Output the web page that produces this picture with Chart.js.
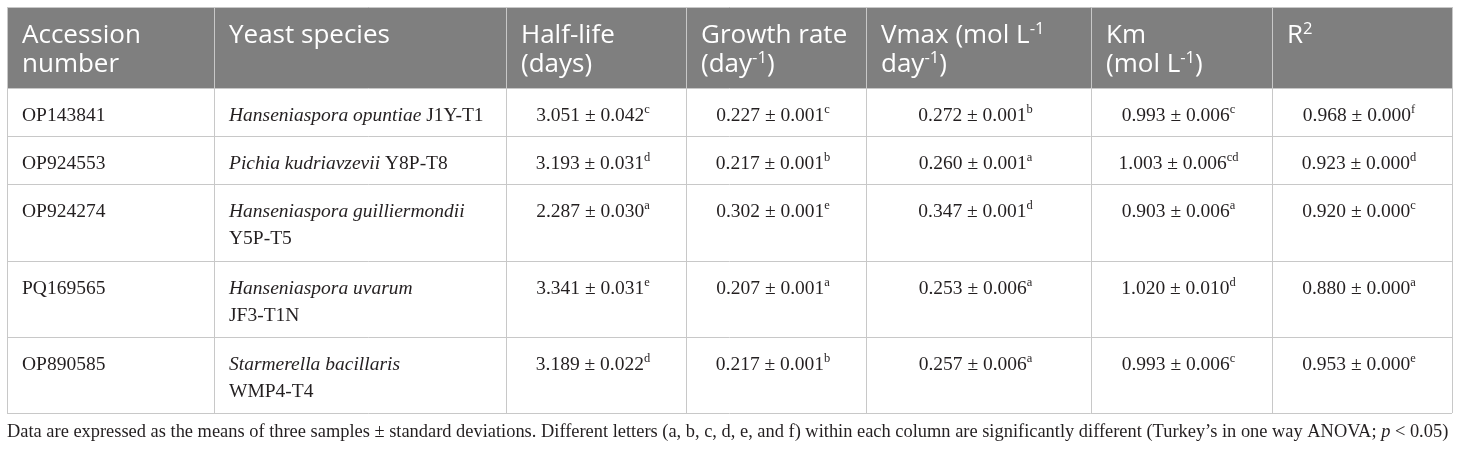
<!DOCTYPE html>
<html>
<head>
<meta charset="utf-8">
<script src="https://cdn.jsdelivr.net/npm/chart.js@4.4.1/dist/chart.umd.min.js"></script>
<style>
  html, body { margin: 0; padding: 0; background: #fff; }
  canvas { display: block; }
</style>
</head>
<body>
<canvas id="table" width="1460" height="450"></canvas>
<script>
// ^{..} = superscript, *..* = italic
const headers = [
  ["Accession", "number"],
  ["Yeast species"],
  ["Half-life", "(days)"],
  ["Growth rate", "(day^{-1})"],
  ["Vmax (mol L^{-1}", "day^{-1})"],
  ["Km", "(mol L^{-1})"],
  ["R^{2}"]
]

const accessions = ["OP143841", "OP924553", "OP924274", "PQ169565", "OP890585"]
const species = ["Hanseniaspora opuntiae", "Pichia kudriavzevii", "Hanseniaspora guilliermondii", "Hanseniaspora uvarum", "Starmerella bacillaris"]
const strains = ["J1Y-T1", "Y8P-T8", "Y5P-T5", "JF3-T1N", "WMP4-T4"]
const strainOwnLine = [false, false, true, true, true]

const halfLife = [3.051, 3.193, 2.287, 3.341, 3.189]
const halfLifeSd = [0.042, 0.031, 0.030, 0.031, 0.022]
const halfLifeLetters = ["c", "d", "a", "e", "d"]

const growthRate = [0.227, 0.217, 0.302, 0.207, 0.217]
const growthRateSd = [0.001, 0.001, 0.001, 0.001, 0.001]
const growthRateLetters = ["c", "b", "e", "a", "b"]

const vmax = [0.272, 0.260, 0.347, 0.253, 0.257]
const vmaxSd = [0.001, 0.001, 0.001, 0.006, 0.006]
const vmaxLetters = ["b", "a", "d", "a", "a"]

const km = [0.993, 1.003, 0.903, 1.020, 0.993]
const kmSd = [0.006, 0.006, 0.006, 0.010, 0.006]
const kmLetters = ["c", "cd", "a", "d", "c"]

const r2 = [0.968, 0.923, 0.920, 0.880, 0.953]
const r2Sd = [0.000, 0.000, 0.000, 0.000, 0.000]
const r2Letters = ["f", "d", "c", "a", "e"]

const footnote = "Data are expressed as the means of three samples \u00b1 standard deviations. Different letters (a, b, c, d, e, and f) within each column are significantly different (Turkey\u2019s in one way ANOVA; *p* < 0.05)"

// layout (in scale units = pixels)
const colEdges = [7, 214, 506, 686, 866, 1091, 1272, 1452]
const rowEdges = [7, 88, 136, 184, 261, 337, 413]

const SANS = '"Open Sans", "Noto Sans", sans-serif'
const SERIF = '"Liberation Serif", "DejaVu Serif", serif'

function cellText(mean, sd, letter) {
  return mean.toFixed(3) + " \u00b1 " + sd.toFixed(3) + "^{" + letter + "}"
}

const valueColumns = [
  [halfLife, halfLifeSd, halfLifeLetters],
  [growthRate, growthRateSd, growthRateLetters],
  [vmax, vmaxSd, vmaxLetters],
  [km, kmSd, kmLetters],
  [r2, r2Sd, r2Letters]
]

function parseRuns(str) {
  return str.split(/(\^\{[^}]*\}|\*[^*]*\*)/).filter(s => s).map(s => {
    if (s.startsWith("^{")) return { text: s.slice(2, -1), sup: true }
    if (s.startsWith("*")) return { text: s.slice(1, -1), italic: true }
    return { text: s }
  })
}

function runFont(run, size, family) {
  const it = run.italic ? "italic " : ""
  return it + (run.sup ? size * 0.64 : size) + "px " + family
}

function richWidth(ctx, runs, size, family) {
  let w = 0
  runs.forEach(r => {
    ctx.font = runFont(r, size, family)
    w += ctx.measureText(r.text).width
  })
  return w
}

function drawRich(ctx, str, x, y, size, family, align, color) {
  const runs = parseRuns(str)
  const w = richWidth(ctx, runs, size, family)
  let cx = align === "center" ? x - w / 2 : x
  ctx.fillStyle = color
  ctx.textBaseline = "alphabetic"
  ctx.textAlign = "left"
  runs.forEach(r => {
    ctx.font = runFont(r, size, family)
    ctx.fillText(r.text, cx, r.sup ? y - size * 0.36 : y)
    cx += ctx.measureText(r.text).width
  })
}

const tablePlugin = {
  id: "tableCells",
  afterDraw(chart) {
    const ctx = chart.ctx
    const xs = chart.scales.x
    const ys = chart.scales.y
    const px = v => xs.getPixelForValue(v)
    const py = v => ys.getPixelForValue(v)
    const left = px(colEdges[0]), right = px(colEdges[colEdges.length - 1])
    const top = py(rowEdges[0]), bottom = py(rowEdges[rowEdges.length - 1])

    ctx.save()
    // header background
    ctx.fillStyle = "#7f7f7f"
    ctx.fillRect(left, top, right - left, py(rowEdges[1]) - top)

    // header text
    headers.forEach((lines, c) => {
      lines.forEach((line, i) => {
        drawRich(ctx, line, px(colEdges[c]) + 15, top + 36 + i * 29, 26, SANS, "left", "#ffffff")
      })
    })

    // body rows
    const bodyColor = "#231f20"
    const bodySize = 19.5
    accessions.forEach((acc, r) => {
      const y0 = py(rowEdges[r + 1]) + 32.5
      drawRich(ctx, acc, px(colEdges[0]) + 15, y0, bodySize, SERIF, "left", bodyColor)
      if (strainOwnLine[r]) {
        drawRich(ctx, "*" + species[r] + "*", px(colEdges[1]) + 15, y0, bodySize, SERIF, "left", bodyColor)
        drawRich(ctx, strains[r], px(colEdges[1]) + 15, y0 + 27, bodySize, SERIF, "left", bodyColor)
      } else {
        drawRich(ctx, "*" + species[r] + "* " + strains[r], px(colEdges[1]) + 15, y0, bodySize, SERIF, "left", bodyColor)
      }
      valueColumns.forEach(([means, sds, letters], k) => {
        const c = k + 2
        const cx = (px(colEdges[c]) + px(colEdges[c + 1])) / 2
        drawRich(ctx, cellText(means[r], sds[r], letters[r]), cx - 3, y0, bodySize, SERIF, "center", bodyColor)
      })
    })

    // grid lines
    ctx.strokeStyle = "#c8c8c8"
    ctx.lineWidth = 1
    ctx.beginPath()
    rowEdges.forEach(v => {
      const y = Math.round(py(v)) + 0.5
      ctx.moveTo(left, y)
      ctx.lineTo(right, y)
    })
    colEdges.forEach(v => {
      const x = Math.round(px(v)) + 0.5
      ctx.moveTo(x, top)
      ctx.lineTo(x, bottom)
    })
    ctx.stroke()

    // footnote, fitted to table width
    const runs = parseRuns(footnote)
    const fw = richWidth(ctx, runs, 100, SERIF)
    const fSize = 100 * (right - left - 3) / fw
    drawRich(ctx, footnote, left, py(437), fSize, SERIF, "left", bodyColor)
    ctx.restore()
  }
}

new Chart(document.getElementById("table"), {
  type: "scatter",
  data: { datasets: [{ data: [] }] },
  options: {
    responsive: false,
    animation: false,
    layout: { padding: 0 },
    plugins: { legend: { display: false }, tooltip: { enabled: false } },
    scales: {
      x: { type: "linear", min: 0, max: 1460, display: false },
      y: { type: "linear", min: 0, max: 450, reverse: true, display: false }
    }
  },
  plugins: [tablePlugin]
})
</script>
</body>
</html>
